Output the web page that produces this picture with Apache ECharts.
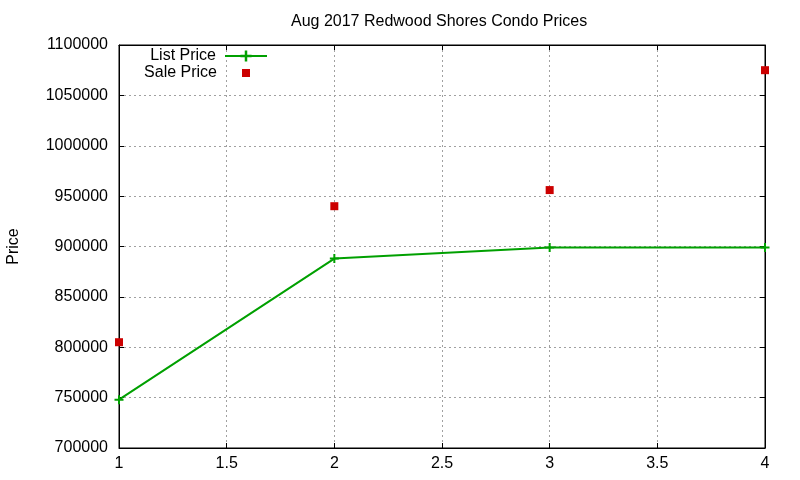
<!DOCTYPE html>
<html>
<head>
<meta charset="utf-8">
<script src="https://cdn.jsdelivr.net/npm/echarts@6/dist/echarts.min.js"></script>
<style>
  html, body { margin: 0; padding: 0; background: #fff; }
  #chart { width: 800px; height: 480px; }
</style>
</head>
<body>
<div id="chart"></div>
<script>
// data
const xValues = [1, 2, 3, 4];
const listPrice = [748000, 888000, 899000, 899000];
const salePrice = [805000, 940000, 956000, 1075000];

const FONT = 'Liberation Sans, Arial, sans-serif';
const FS = 16;
const GREEN = '#00a000';
const RED = '#cc0000';
const PLUS = 'path://M3.5,0H5.5V3.5H9V5.5H5.5V9H3.5V5.5H0V3.5H3.5Z';

const gridLine = { show: true, lineStyle: { color: '#a0a0a0', type: [2, 3], width: 1 } };
const tick = { show: true, inside: true, length: 5, lineStyle: { color: '#000' } };

const chart = echarts.init(document.getElementById('chart'), null, { renderer: 'canvas' });

chart.setOption({
  animation: false,
  textStyle: { fontFamily: FONT, color: '#000' },
  title: {
    text: 'Aug 2017 Redwood Shores Condo Prices',
    left: 286,
    top: 9,
    textStyle: { fontFamily: FONT, fontSize: FS, fontWeight: 'normal', color: '#000' }
  },
  legend: [
    {
      data: ['List Price'],
      orient: 'vertical',
      align: 'right',
      right: 527,
      top: 43,
      itemWidth: 42,
      itemHeight: 14,
      textStyle: { fontFamily: FONT, fontSize: FS, color: '#000', padding: [0, 4, 0, 0] }
    },
    {
      data: ['Sale Price'],
      orient: 'vertical',
      align: 'right',
      right: 545,
      top: 60,
      itemWidth: 8,
      itemHeight: 8,
      textStyle: { fontFamily: FONT, fontSize: FS, color: '#000', padding: [0, 20, 0, 0] }
    }
  ],
  grid: {
    left: 119, right: 35, top: 45, bottom: 32,
    outerBoundsMode: 'none',
    containLabel: false,
    show: true, borderColor: '#000', borderWidth: 1
  },
  xAxis: [
    {
      type: 'value', min: 1, max: 4, interval: 0.5,
      axisLine: { show: true, lineStyle: { color: '#000' } },
      axisTick: tick,
      axisLabel: { fontFamily: FONT, fontSize: FS, color: '#000', margin: 8 },
      splitLine: gridLine
    },
    {
      type: 'value', position: 'top', min: 1, max: 4, interval: 0.5,
      axisLine: { show: true, lineStyle: { color: '#000' } },
      axisTick: tick, axisLabel: { show: false }, splitLine: { show: false }
    }
  ],
  yAxis: [
    {
      type: 'value', min: 700000, max: 1100000, interval: 50000,
      name: 'Price', nameLocation: 'middle', nameGap: 97,
      nameTextStyle: { fontFamily: FONT, fontSize: FS, color: '#000' },
      axisLine: { show: true, lineStyle: { color: '#000' } },
      axisTick: tick,
      axisLabel: { fontFamily: FONT, fontSize: FS, color: '#000', margin: 11, formatter: v => String(v) },
      splitLine: gridLine
    },
    {
      type: 'value', position: 'right', min: 700000, max: 1100000, interval: 50000,
      axisLine: { show: true, lineStyle: { color: '#000' } },
      axisTick: tick, axisLabel: { show: false }, splitLine: { show: false }
    }
  ],
  series: [
    {
      name: 'List Price',
      type: 'line',
      data: xValues.map((x, i) => [x, listPrice[i]]),
      symbol: PLUS,
      symbolSize: 9,
      showAllSymbol: true,
      clip: false,
      lineStyle: { color: GREEN, width: 2 },
      itemStyle: { color: GREEN }
    },
    {
      name: 'Sale Price',
      type: 'scatter',
      data: xValues.map((x, i) => [x, salePrice[i]]),
      symbol: 'rect',
      symbolSize: 8,
      clip: false,
      itemStyle: { color: RED, opacity: 1 }
    }
  ]
});
</script>
</body>
</html>
